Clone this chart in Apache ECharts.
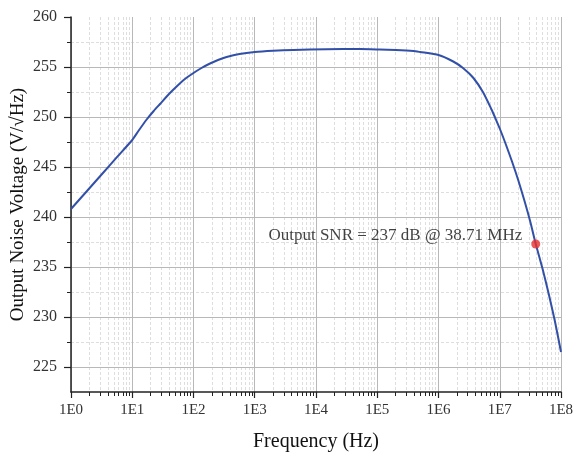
<!DOCTYPE html>
<html><head><meta charset="utf-8">
<script src="https://cdn.jsdelivr.net/npm/echarts@6/dist/echarts.min.js"></script>
<style>html,body{margin:0;padding:0;background:#fff}#c{width:573px;height:452px}</style>
</head><body><div id="c"></div>
<script>
// Frequency (Hz) and output noise voltage values
const freqHz = [1, 3.16, 5.62, 10, 12.6, 17.2, 22.4, 28.4, 39.8, 53, 70.8, 100, 135, 186, 251, 347, 562, 1000, 2000, 4270, 14800, 52500, 110000, 200000, 389000, 501000, 1e6, 1.74e6, 2.51e6, 3.72e6, 5.37e6, 7.41e6, 8.32e6, 1e7, 1.259e7, 1.585e7, 2.0e7, 2.51e7, 3.16e7, 3.871e7, 5.01e7, 6.31e7, 7.94e7, 1e8];
const noiseV = [240.8, 244.25, 245.98, 247.7, 248.6, 249.75, 250.6, 251.3, 252.3, 253.05, 253.75, 254.4, 254.9, 255.35, 255.7, 256.0, 256.3, 256.5, 256.62, 256.7, 256.78, 256.8, 256.75, 256.7, 256.6, 256.5, 256.2, 255.55, 254.9, 253.9, 252.45, 250.7, 250.0, 248.85, 247.25, 245.55, 243.7, 241.7, 239.5, 237.3, 234.8, 232.3, 229.6, 226.5];
const markerPoint = [3.871e7, 237.3];
const markerText = 'Output SNR = 237 dB @ 38.71 MHz';
const yMajorTicks = [225, 230, 235, 240, 245, 250, 255, 260];
const yGridLines = [225, 230, 235, 240, 245, 250, 255];
const yMinorTicks = [227.5, 232.5, 237.5, 242.5, 247.5, 252.5, 257.5];
const xDecades = [0, 1, 2, 3, 4, 5, 6, 7, 8];
const xMinorMult = [2, 3, 4, 5, 6, 7, 8, 9];

const xMinorTicks = [];
xDecades.slice(0, -1).forEach(d => xMinorMult.forEach(m => xMinorTicks.push(m * Math.pow(10, d))));

const serif = '"Liberation Serif", "DejaVu Serif", serif';
const chart = echarts.init(document.getElementById('c'), null, {renderer: 'canvas'});
chart.setOption({
  animation: false,
  backgroundColor: '#fff',
  grid: {left: 71, right: 12, top: 17, bottom: 60, containLabel: false, outerBoundsMode: 'none'},
  xAxis: [{
    type: 'log', logBase: 10, min: 1, max: 1e8,
    name: 'Frequency (Hz)', nameLocation: 'middle', nameGap: 40, nameMoveOverlap: false,
    nameTextStyle: {fontFamily: serif, fontSize: 20, color: '#111'},
    axisLine: {show: true, lineStyle: {color: '#222', width: 1.5}},
    axisTick: {show: true, inside: false, length: 6, lineStyle: {color: '#222', width: 1.2}},
    axisLabel: {fontFamily: serif, fontSize: 15, color: '#333', margin: 11,
      formatter: v => '1E' + Math.round(Math.log10(v))},
    splitLine: {show: true, lineStyle: {color: '#b8b8b8', width: 1}},
    z: 3
  }, {
    type: 'log', logBase: 10, min: 1, max: 1e8, position: 'bottom',
    axisLine: {show: false},
    axisTick: {show: true, inside: false, length: 4, customValues: xMinorTicks, lineStyle: {color: '#222', width: 1}},
    axisLabel: {show: false},
    splitLine: {show: true, lineStyle: {color: '#dedede', width: 1, type: [3, 2]}},
    z: 1
  }],
  yAxis: [{
    type: 'value', min: 222.5, max: 260,
    name: 'Output Noise Voltage (V/\u221AHz)', nameLocation: 'middle', nameGap: 43, nameMoveOverlap: false,
    nameTextStyle: {fontFamily: serif, fontSize: 19, color: '#111'},
    axisLine: {show: true, lineStyle: {color: '#222', width: 1.5}},
    axisTick: {show: true, inside: false, length: 7, customValues: yMajorTicks, lineStyle: {color: '#222', width: 1.2}},
    axisLabel: {fontFamily: serif, fontSize: 16, color: '#333', margin: 14, customValues: yMajorTicks},
    splitLine: {show: false},
    z: 3
  }, {
    type: 'value', min: 222.5, max: 260, position: 'left',
    axisLine: {show: false},
    axisTick: {show: true, inside: false, length: 4, customValues: yMinorTicks, lineStyle: {color: '#222', width: 1}},
    axisLabel: {show: false},
    splitLine: {show: true, lineStyle: {color: '#dedede', width: 1, type: [3, 2]}},
    z: 1
  }, {
    type: 'value', min: 222.5, max: 260, position: 'left',
    axisLine: {show: false},
    axisTick: {show: false, customValues: yGridLines},
    axisLabel: {show: false},
    splitLine: {show: true, lineStyle: {color: '#b8b8b8', width: 1}},
    z: 2
  }],
  series: [{
    type: 'line', xAxisIndex: 0, yAxisIndex: 0,
    data: freqHz.map((f, i) => [f, noiseV[i]]),
    showSymbol: false, smooth: 0.2,
    lineStyle: {color: '#3350a8', width: 2},
    z: 5
  }, {
    type: 'scatter', xAxisIndex: 0, yAxisIndex: 0,
    data: [markerPoint],
    symbolSize: 9,
    itemStyle: {color: '#e8302e'},
    label: {show: true, position: 'left', distance: 9, offset: [0, -8],
      formatter: markerText, fontFamily: serif, fontSize: 17, color: '#111'},
    z: 6
  }]
});
</script></body></html>
